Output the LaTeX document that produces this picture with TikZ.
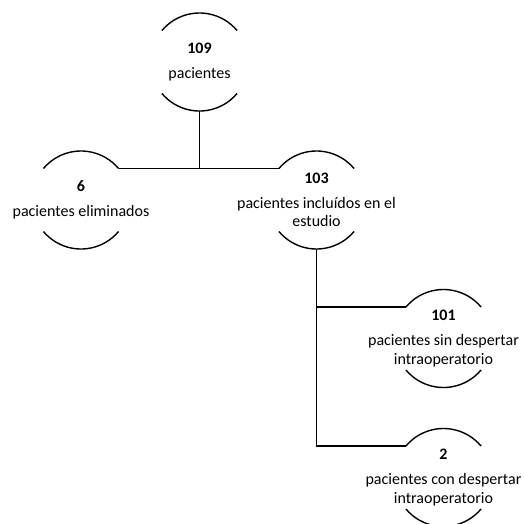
\documentclass[tikz,border=0pt]{standalone}
\usepackage{fontspec}
\setmainfont{Carlito}
\begin{document}
\begin{tikzpicture}[x=1pt,y=1pt,
  blob/.style={circle,minimum size=98pt,inner sep=0pt,outer sep=0pt},
  lbl/.style={align=center,font=\fontsize{16}{18.5}\selectfont,inner sep=0pt,text=black},
  rim/.style={line width=1.4pt},
  link/.style={line width=1.4pt}]
\useasboundingbox (0,0) rectangle (524,-523);
\node[blob] (n109) at (199.5,-62) {};
\node[blob] (n6) at (81,-200) {};
\node[blob] (n103) at (316.5,-200) {};
\node[blob] (n101) at (443.5,-338.5) {};
\node[blob] (n2) at (443.5,-477.5) {};
\node[lbl] (t109) at (n109) {\textbf{109}\\[6.5pt]pacientes};
\node[lbl] (t6) at (n6) {\textbf{6}\\[6.5pt]pacientes eliminados};
\node[lbl] (t103) at (n103) {\textbf{103}\\[6.5pt]pacientes incluídos en el\\estudio};
\node[lbl] (t101) at (n101) {\textbf{101}\\[6.5pt]pacientes sin despertar\\intraoperatorio};
\node[lbl] (t2) at (n2) {\textbf{2}\\[6.5pt]pacientes con despertar\\intraoperatorio};
\foreach \n in {n109,n6,n103,n101,n2}{
  \draw[rim] (\n.140) arc[start angle=140,end angle=40,radius=49pt];
  \draw[rim] (\n.220) arc[start angle=220,end angle=320,radius=49pt];
}
\draw[link] (n109.south) -- (n109.south |- n6.40);
\draw[link] (n6.40) -- (n103.140);
\draw[link] (n103.south) |- (n2.140);
\draw[link] (n103.south |- n101.140) -- (n101.140);
\end{tikzpicture}
\end{document}
